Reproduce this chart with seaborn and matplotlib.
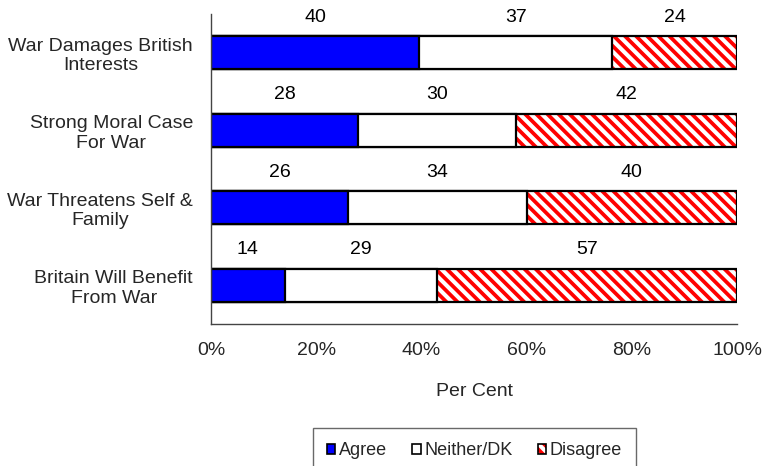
import matplotlib
matplotlib.use("Agg")
import matplotlib.pyplot as plt
from matplotlib.patches import Patch
from matplotlib.legend_handler import HandlerTuple
import numpy as np
import pandas as pd
import seaborn as sns

# Survey responses (per cent) for each statement
categories = [
    "War Damages British\nInterests",
    "Strong Moral Case\nFor War",
    "War Threatens Self &\nFamily",
    "Britain Will Benefit\nFrom War",
]
agree = [40, 28, 26, 14]
neither = [37, 30, 34, 29]
disagree = [24, 42, 40, 57]
series_names = ["Agree", "Neither/DK", "Disagree"]
x_ticks = [0, 20, 40, 60, 80, 100]

sns.set_style("white")
plt.rcParams["font.family"] = ["Liberation Sans", "DejaVu Sans"]
plt.rcParams["hatch.linewidth"] = 2.7

BLUE = "#0000FF"
RED = "#FF0000"
HATCH = "\\\\\\"

# Stacked to 100%: each segment scaled by the row total
raw = np.array([agree, neither, disagree], dtype=float)
share = raw / raw.sum(axis=0) * 100
cum = np.cumsum(share, axis=0)
df = pd.DataFrame({
    "category": categories,
    "agree_end": cum[0],
    "neither_end": cum[1],
    "total": cum[2],
})

fig = plt.figure(figsize=(7.63, 4.66), dpi=100)
ax = fig.add_axes([211 / 763, 1 - 324 / 466, 526 / 763, 310 / 466])

bar_w = 0.42
common = dict(data=df, y="category", orient="h", width=bar_w,
              errorbar=None, saturation=1, ax=ax)

# Disagree: red diagonal stripes, outlined separately in black
sns.barplot(x="total", color="white", edgecolor=RED, linewidth=0,
            hatch=HATCH, **common)
sns.barplot(x="total", fill=False, edgecolor="black", linewidth=1.6, **common)
# Neither/DK and Agree drawn over the cumulative bars
sns.barplot(x="neither_end", color="white", edgecolor="black",
            linewidth=1.6, **common)
sns.barplot(x="agree_end", color=BLUE, edgecolor="black",
            linewidth=1.6, **common)

# Value labels above each segment
starts = np.vstack([np.zeros(len(categories)), cum[:-1]])
for s in range(3):
    for i in range(len(categories)):
        xc = starts[s, i] + share[s, i] / 2
        ax.text(xc, i - bar_w / 2 - 0.245, f"{int(raw[s, i])}",
                ha="center", va="center", fontsize=14, color="black")

ax.set_xlim(0, 100)
ax.set_ylim(len(categories) - 0.5, -0.5)
ax.set_xticks(x_ticks)
ax.set_xticklabels([f"{t}%" for t in x_ticks], fontsize=14)
ax.set_yticks(range(len(categories)))
ax.set_yticklabels(categories, fontsize=14, multialignment="center")
ax.set_yticks(np.arange(-0.5, len(categories), 1.0), minor=True)
ax.tick_params(axis="y", which="major", length=0, pad=13)
ax.tick_params(axis="y", which="minor", length=5, width=1, color="#444444",
               direction="out")
ax.tick_params(axis="x", which="major", length=5, width=1, color="#444444",
               direction="out", pad=8)
ax.set_xlabel("Per Cent", fontsize=14, labelpad=17)
ax.set_ylabel("")

for side in ["top", "right"]:
    ax.spines[side].set_visible(False)
for side in ["left", "bottom"]:
    ax.spines[side].set_color("#444444")
    ax.spines[side].set_linewidth(1)

handles = [
    Patch(facecolor=BLUE, edgecolor="black", linewidth=1.2),
    Patch(facecolor="white", edgecolor="black", linewidth=1.2),
    (Patch(facecolor="white", edgecolor=RED, linewidth=0, hatch="\\\\\\"),
     Patch(facecolor="none", edgecolor="black", linewidth=1.2)),
]
leg = fig.legend(handles, series_names, loc="upper center",
                 bbox_to_anchor=(474.5 / 763, 1 - 428 / 466), ncol=3,
                 frameon=True, fancybox=False, fontsize=13,
                 handlelength=0.45, handleheight=0.45, handletextpad=0.2,
                 columnspacing=1.4, borderpad=0.8, borderaxespad=0,
                 handler_map={tuple: HandlerTuple(ndivide=1)})
leg.get_frame().set_edgecolor("#444444")
leg.get_frame().set_linewidth(1)

fig.savefig("out.png", dpi=100)
